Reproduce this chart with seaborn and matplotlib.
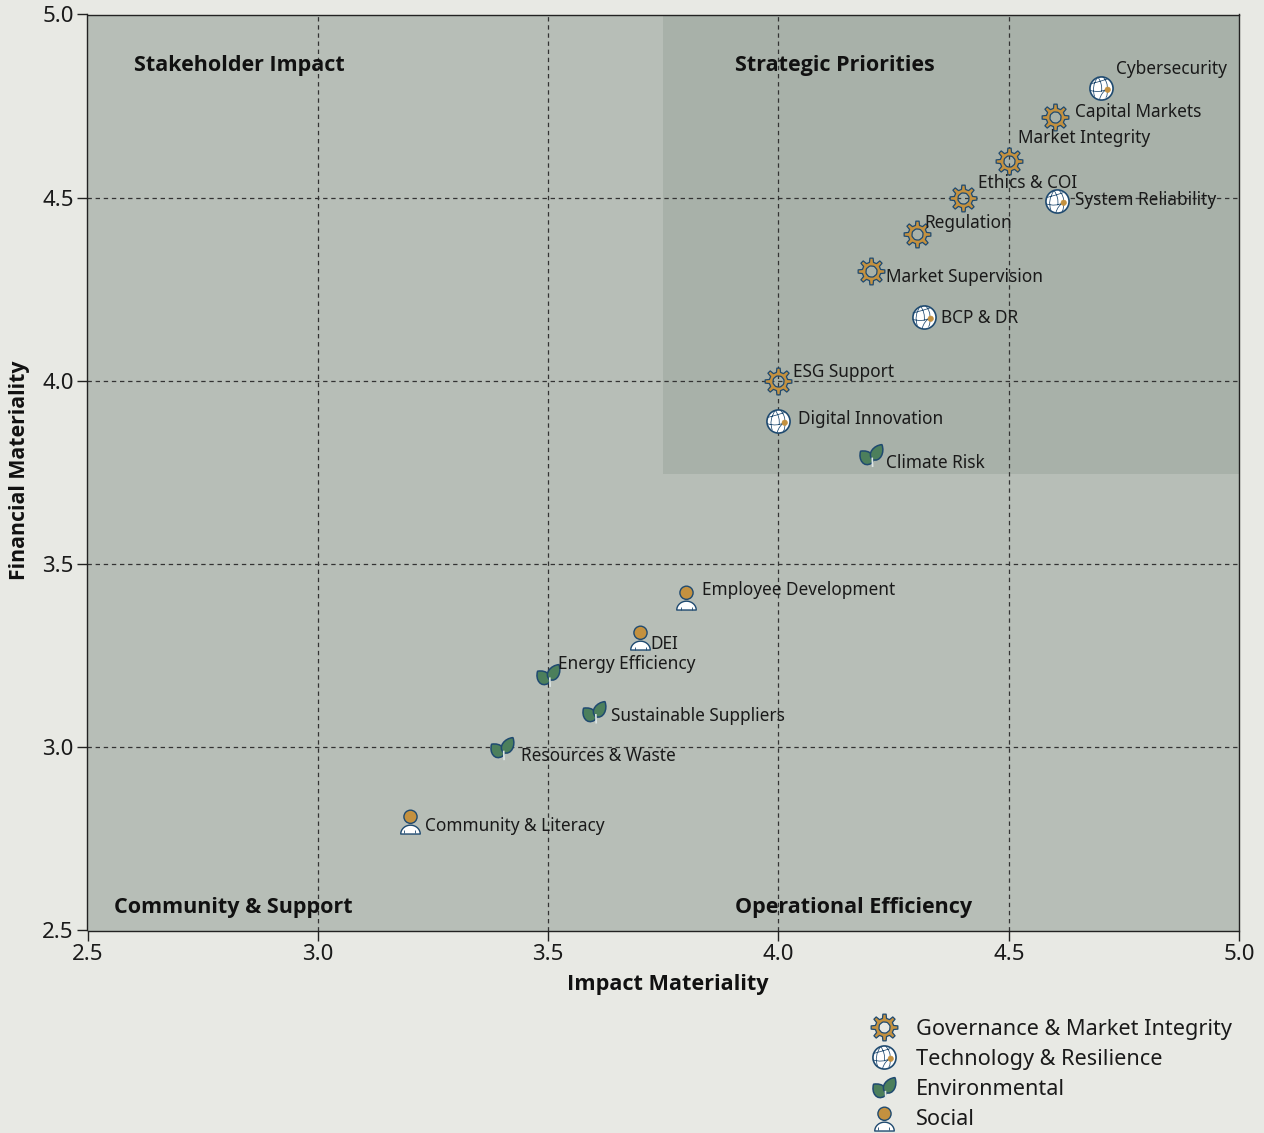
import numpy as np
import pandas as pd
import matplotlib
matplotlib.use("Agg")
import matplotlib.pyplot as plt
import seaborn as sns
from matplotlib.path import Path
from matplotlib.patches import Rectangle
from matplotlib.legend_handler import HandlerTuple

names = ["Cybersecurity", "Capital Markets", "Market Integrity", "Ethics & COI", "System Reliability",
         "Regulation", "Market Supervision", "BCP & DR", "ESG Support", "Digital Innovation", "Climate Risk",
         "Employee Development", "DEI", "Energy Efficiency", "Sustainable Suppliers", "Resources & Waste",
         "Community & Literacy"]
impact = [4.7, 4.6, 4.5, 4.4, 4.605, 4.3, 4.2, 4.315, 4.0, 4.0, 4.2, 3.8, 3.7, 3.5, 3.6, 3.4, 3.2]
financial = [4.8, 4.72, 4.6, 4.5, 4.49, 4.4, 4.3, 4.175, 4.0, 3.89, 3.8, 3.41, 3.3, 3.2, 3.1, 3.0, 2.8]
groups = ["Technology & Resilience", "Governance & Market Integrity", "Governance & Market Integrity",
          "Governance & Market Integrity", "Technology & Resilience", "Governance & Market Integrity",
          "Governance & Market Integrity", "Technology & Resilience", "Governance & Market Integrity",
          "Technology & Resilience", "Environmental", "Social", "Social", "Environmental", "Environmental",
          "Environmental", "Social"]
legend_order = ["Governance & Market Integrity", "Technology & Resilience", "Environmental", "Social"]
ticks = [2.5, 3.0, 3.5, 4.0, 4.5, 5.0]

# label offsets from the point, in pixels
label_dx = [15, 20, 9, 15, 18, 8, 15, 17, 15, 20, 15, 16, 10, 10, 17, 19, 15]
label_dy = [19, 5, 23, 15, 1, 11, -6, -1, 9, 2, -9, 7, -7, 10, -5, -9, -5]

BG = "#E8E9E4"
PANEL = "#B7BEB7"
HIGH = "#A8B1A9"
NAVY = "#1F4A70"
GOLD = "#C4913F"
GREEN = "#4C7F5C"
INK = "#1A1A1A"
BOLD_FONT = "Open Sans"


def unit(path):
    # matplotlib rescales markers by their largest vertex, pin that to 1 so the layers line up
    v = np.vstack([path.vertices, [[1, 1]]])
    c = np.append(path.codes, Path.MOVETO)
    return Path(v, c)


def circle(cx, cy, r, reverse=False):
    p = Path.circle((cx, cy), r)
    v = p.vertices[::-1] if reverse else p.vertices
    return Path(v.copy(), p.codes)


def polygon(pts):
    pts = np.array(pts, float)
    codes = [Path.MOVETO] + [Path.LINETO] * (len(pts) - 1) + [Path.CLOSEPOLY]
    return Path(np.vstack([pts, pts[0]]), codes)


def gear_path():
    pts = []
    for i in range(8):
        a = i * np.pi / 4 + np.pi / 2
        pts += [(0.68 * np.cos(a - 0.22), 0.68 * np.sin(a - 0.22)),
                (0.98 * np.cos(a - 0.12), 0.98 * np.sin(a - 0.12)),
                (0.98 * np.cos(a + 0.12), 0.98 * np.sin(a + 0.12)),
                (0.68 * np.cos(a + 0.22), 0.68 * np.sin(a + 0.22))]
    return unit(Path.make_compound_path(polygon(pts), circle(0, 0, 0.40, reverse=True)))


def globe_lines():
    parts = []
    for a, c, b in [((-0.25, 0.88), (-0.8, 0.1), (-0.5, -0.72)), ((-0.88, 0.3), (-0.1, 0.5), (0.5, 0.7)),
                    ((0.15, 0.9), (0.6, 0.4), (0.5, -0.1)), ((-0.9, -0.2), (-0.1, -0.45), (0.5, -0.1)),
                    ((0.5, -0.1), (0.05, -0.35), (-0.1, -0.9)), ((-0.25, 0.88), (0.15, 0.3), (0.05, -0.3)),
                    ((0.5, -0.1), (0.6, -0.5), (0.4, -0.8))]:
        parts.append(Path([a, c, b], [Path.MOVETO, Path.CURVE3, Path.CURVE3]))
    return unit(Path.make_compound_path(*parts))


def leaf(base, tip, bulge):
    base, tip = np.array(base, float), np.array(tip, float)
    d = tip - base
    n = np.array([-d[1], d[0]]) * bulge
    c1 = base + d * 0.1 + n
    c2 = base + d * 0.72 + n * 0.85
    c3 = base + d * 0.72 - n * 0.85
    c4 = base + d * 0.1 - n
    return Path([base, c1, c2, tip, c3, c4, base, base],
                [Path.MOVETO, Path.CURVE4, Path.CURVE4, Path.CURVE4, Path.CURVE4, Path.CURVE4, Path.CURVE4,
                 Path.CLOSEPOLY])


def shoulders():
    t = np.linspace(np.pi, 0, 24)
    pts = [(0.74 * np.cos(a), -0.95 + 0.67 * np.sin(a)) for a in t]
    return unit(polygon(pts))


gear = gear_path()
globe_disc = unit(circle(0, 0, 0.93))
globe_web = globe_lines()
globe_dot = unit(circle(0.5, -0.1, 0.22))
leaf_l = unit(leaf((0.0, -0.8), (-1.0, 0.3), 0.55))
leaf_r = unit(leaf((0.1, -0.5), (1.0, 0.95), 0.45))
stem = unit(Path([(0.15, -0.95), (0.12, -0.25)], [Path.MOVETO, Path.LINETO]))
head = unit(circle(0, 0.36, 0.5))
body = shoulders()
arms = unit(Path([(-0.42, -0.95), (-0.42, -0.75), (0.42, -0.95), (0.42, -0.75)],
                 [Path.MOVETO, Path.LINETO, Path.MOVETO, Path.LINETO]))

# marker, size, face, edge, line width
layers = {
    "Governance & Market Integrity": [(gear, 390, GOLD, NAVY, 0.9)],
    "Technology & Resilience": [(globe_disc, 320, "white", NAVY, 1.2), (globe_web, 320, "none", NAVY, 0.55),
                                (globe_dot, 320, GOLD, GOLD, 0.4)],
    "Environmental": [(leaf_l, 380, GREEN, NAVY, 1.1), (leaf_r, 380, GREEN, NAVY, 1.1),
                      (stem, 380, "none", "#DDE6E6", 1.2)],
    "Social": [(head, 360, GOLD, NAVY, 1.0), (body, 360, "white", NAVY, 1.0), (arms, 360, "none", NAVY, 0.6)],
}

df = pd.DataFrame({"name": names, "impact": impact, "financial": financial, "group": groups})

sns.set_theme(style="white")
plt.rcParams["font.family"] = ["Noto Sans", "DejaVu Sans"]
fig = plt.figure(figsize=(12.64, 11.33), dpi=100, facecolor=BG)
ax = fig.add_axes([87.5 / 1264, 1 - 930.5 / 1133, 1151.6 / 1264, 916 / 1133], facecolor=PANEL)
ax.set_axisbelow(True)
ax.add_patch(Rectangle((3.75, 3.745), 1.25, 1.255, facecolor=HIGH, edgecolor="none", zorder=0))

for g in legend_order:
    sub = df[df["group"] == g]
    for m, s, face, edge, lw in layers[g]:
        sns.scatterplot(data=sub, x="impact", y="financial", marker=m, s=s, facecolor=face, edgecolor=edge,
                        linewidth=lw, ax=ax, legend=False, zorder=3, clip_on=False)

for n, x, y, dx, dy in zip(names, impact, financial, label_dx, label_dy):
    ax.annotate(n, (x, y), xytext=(dx, dy), textcoords="offset pixels", fontsize=12.4, color=INK, va="center",
                ha="left", zorder=4)

ax.set_xlim(2.5, 5)
ax.set_ylim(2.5, 5)
ax.set_xticks(ticks)
ax.set_yticks(ticks)
ax.grid(True, color="#333333", linestyle=(0, (3.5, 3)), linewidth=0.9)
for axis in (ax.xaxis, ax.yaxis):
    lines = axis.get_gridlines()
    lines[0].set_visible(False)
    lines[-1].set_visible(False)
ax.tick_params(length=7, width=1, color="#222222", labelsize=16, labelcolor=INK, pad=3, left=True, bottom=True)
for s in ax.spines.values():
    s.set_color("#222222")
    s.set_linewidth(1)
ax.set_xlabel("Impact Materiality", fontsize=15.6, family=BOLD_FONT, fontweight="bold", color="#111111", labelpad=6,
              x=0.504)
ax.set_ylabel("Financial Materiality", fontsize=15.3, family=BOLD_FONT, fontweight="bold", color="#111111",
              labelpad=8.5, y=0.503)

for txt, px, py in [("Stakeholder Impact", 134, 66), ("Strategic Priorities", 735, 66),
                    ("Community & Support", 114, 907), ("Operational Efficiency", 735, 907)]:
    fig.text(px / 1264, 1 - py / 1133, txt, fontsize=15.5, family=BOLD_FONT, fontweight="bold", color="#111111",
             va="center", ha="left")

handles = []
for g in legend_order:
    hs = [ax.scatter([], [], marker=m, s=s, facecolor=face, edgecolor=edge, linewidth=lw)
          for m, s, face, edge, lw in layers[g]]
    handles.append(tuple(hs))
fig.legend(handles, legend_order, handler_map={tuple: HandlerTuple(ndivide=1, pad=0)}, frameon=False, fontsize=15.6,
           loc="upper right", bbox_to_anchor=(1243 / 1264, 1 - 1008 / 1133), labelspacing=0.42, handletextpad=0.5,
           borderpad=0, labelcolor=INK, scatteryoffsets=[0.5])

fig.savefig("out.png", dpi=100, facecolor=BG)
